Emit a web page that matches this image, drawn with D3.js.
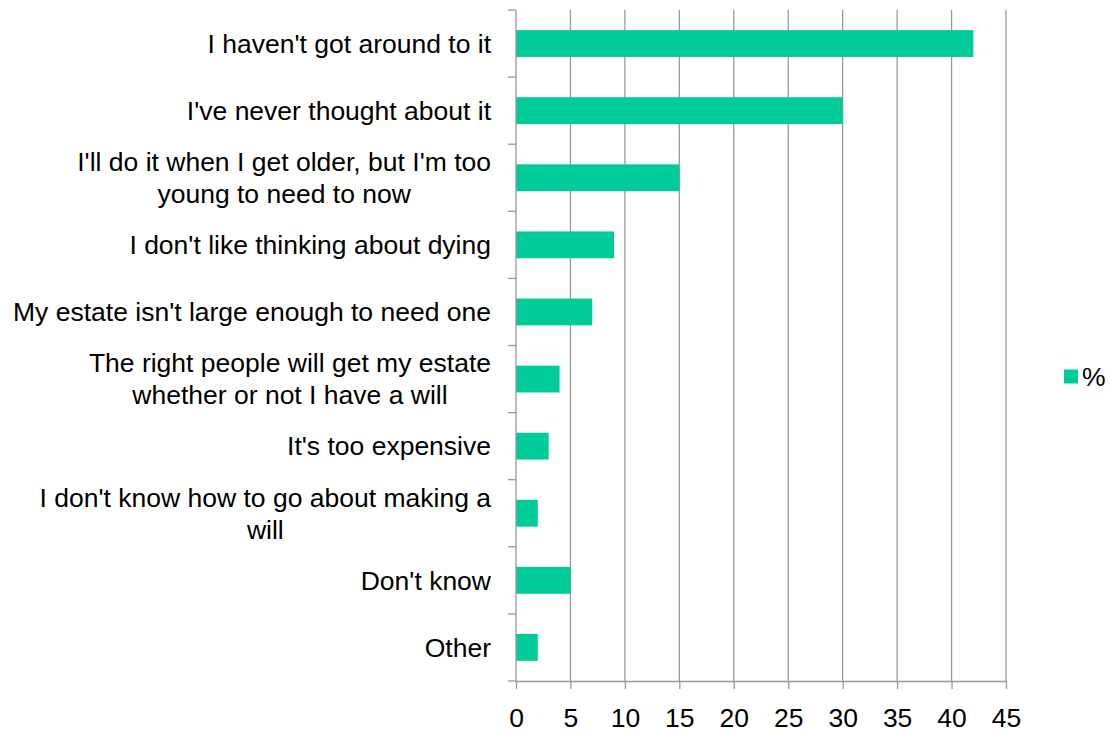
<!DOCTYPE html>
<html>
<head>
<meta charset="utf-8">
<script src="https://cdn.jsdelivr.net/npm/d3@7"></script>
<style>
  body { margin: 0; background: #fff; }
  svg { display: block; font-family: "Liberation Sans", Arial, sans-serif; }
</style>
</head>
<body>
<svg id="chart" width="1110" height="734"></svg>
<script>
// categories, top to bottom ("\n" marks where the original label wraps)
var categories = [
    "I haven't got around to it",
    "I've never thought about it",
    "I'll do it when I get older, but I'm too\nyoung to need to now",
    "I don't like thinking about dying",
    "My estate isn't large enough to need one",
    "The right people will get my estate\nwhether or not I have a will",
    "It's too expensive",
    "I don't know how to go about making a\nwill",
    "Don't know",
    "Other"
];
var values = [42, 30, 15, 9, 7, 4, 3, 2, 5, 2];
var xTicks = [0, 5, 10, 15, 20, 25, 30, 35, 40, 45];
var seriesName = "%";

var svg = d3.select("#chart");

var margins = { top: 10, right: 104, bottom: 53, left: 516 };
var width = 1110 - margins.left - margins.right;
var height = 734 - margins.top - margins.bottom;

var barColor = "#00cc99";
var gridColor = "#999999";
var fontSize = "26.5px";

var x = d3.scaleLinear()
    .domain([0, 45])
    .range([0, width]);

var y = d3.scaleBand()
    .domain(categories)
    .range([0, height])
    .paddingInner(0.6)
    .paddingOuter(0.3);

var g = svg.append("g")
    .attr("transform", "translate(" + margins.left + "," + margins.top + ")");

// vertical gridlines
g.selectAll(".grid")
    .data(xTicks.slice(1))
    .enter().append("line")
    .attr("class", "grid")
    .attr("x1", d => x(d))
    .attr("x2", d => x(d))
    .attr("y1", 0)
    .attr("y2", height)
    .attr("stroke", gridColor)
    .attr("stroke-width", 1.3);

// bars
g.selectAll(".bar")
    .data(values)
    .enter().append("rect")
    .attr("class", "bar")
    .attr("x", x(0))
    .attr("y", (d, i) => y(categories[i]))
    .attr("width", d => x(d) - x(0))
    .attr("height", y.bandwidth())
    .attr("fill", barColor);

// x axis
var xAxis = g.append("g")
    .attr("transform", "translate(0," + height + ")")
    .call(d3.axisBottom(x).tickValues(xTicks).tickSize(8).tickSizeOuter(0).tickPadding(19));

// y axis: ticks sit on the category boundaries, so draw them by hand
var step = y.step();
var bounds = d3.range(categories.length + 1).map(i => i === 0 ? 0 : (i === categories.length ? height : y(categories[i]) - y.paddingInner() * step / 2));

g.append("line")
    .attr("x1", 0).attr("x2", 0)
    .attr("y1", 0).attr("y2", height)
    .attr("stroke", gridColor)
    .attr("stroke-width", 1.3);

g.selectAll(".ytick")
    .data(bounds)
    .enter().append("line")
    .attr("class", "ytick")
    .attr("x1", -8).attr("x2", 0)
    .attr("y1", d => d).attr("y2", d => d)
    .attr("stroke", gridColor)
    .attr("stroke-width", 1.3);

xAxis.select(".domain").attr("stroke", gridColor).attr("stroke-width", 1.3);
xAxis.selectAll(".tick line").attr("stroke", gridColor).attr("stroke-width", 1.3);
xAxis.selectAll(".tick text")
    .attr("fill", "#000")
    .style("font-size", fontSize)
    .style("font-family", '"Liberation Sans", Arial, sans-serif');

// category labels: block right-aligned to the axis, wrapped lines centred within it
var lineHeight = 32;
var labelGap = 25;
g.selectAll(".cat")
    .data(categories)
    .enter().append("text")
    .attr("class", "cat")
    .attr("text-anchor", "middle")
    .style("font-size", fontSize)
    .attr("fill", "#000")
    .each(function (d) {
        var lines = d.split("\n");
        var cy = y(d) + y.bandwidth() / 2;
        var first = cy - (lines.length - 1) * lineHeight / 2;
        var t = d3.select(this);
        var spans = lines.map(function (line, i) {
            return t.append("tspan")
                .attr("y", first + i * lineHeight)
                .attr("dy", "0.35em")
                .text(line);
        });
        var maxW = d3.max(spans, s => s.node().getComputedTextLength());
        spans.forEach(s => s.attr("x", -labelGap - maxW / 2));
    });

// legend
var legend = svg.append("g")
    .attr("transform", "translate(1064," + (margins.top + height / 2 + 31) + ")");

legend.append("rect")
    .attr("x", 0)
    .attr("y", -7)
    .attr("width", 14)
    .attr("height", 14)
    .attr("fill", barColor);

legend.append("text")
    .attr("x", 18)
    .attr("y", 0)
    .attr("dy", "0.35em")
    .style("font-size", fontSize)
    .text(seriesName);
</script>
</body>
</html>
